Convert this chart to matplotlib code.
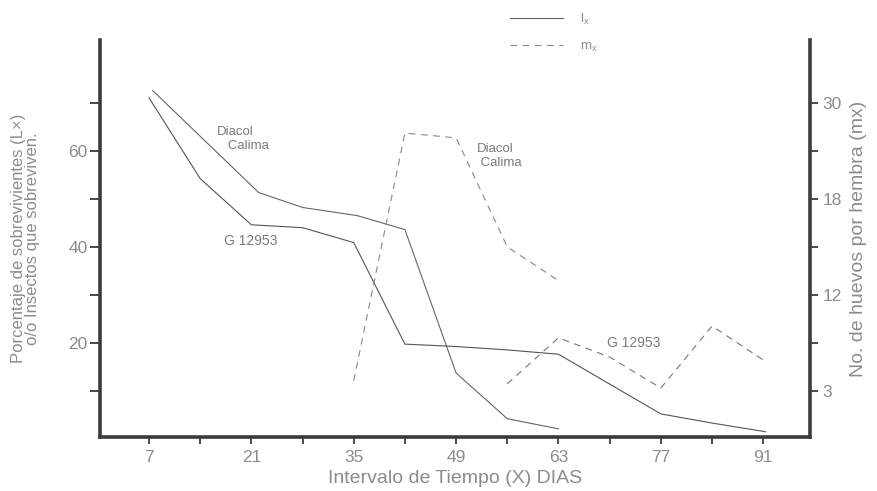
import numpy as np
import matplotlib
matplotlib.use("Agg")
import matplotlib.pyplot as plt
from matplotlib.ticker import FixedLocator

plt.rcParams['font.family'] = ['Liberation Sans', 'DejaVu Sans']

# Lx (porcentaje de sobrevivientes), eje izquierdo
dias_diacol_lx = [7.5, 22, 28, 35.5, 42, 49, 56, 63]
lx_diacol = [72.5, 51.3, 48.2, 46.5, 43.6, 13.8, 4.3, 2.2]

dias_g_lx = [7, 14, 21, 28, 35, 42, 49, 56, 63, 70, 77, 84, 91.3]
lx_g = [71, 54.2, 44.6, 44.0, 40.9, 19.8, 19.3, 18.6, 17.7, 11.5, 5.3, 3.4, 1.6]

# mx (huevos por hembra), eje derecho
dias_diacol_mx = [35, 42, 49, 56, 63]
mx_diacol = [4.0, 26.2, 25.6, 15.0, 12.9]

dias_g_mx = [56, 63, 70, 77, 84, 91.5]
mx_g = [3.7, 8.0, 6.2, 3.3, 9.1, 5.7]

x_ticks = [7, 21, 35, 49, 63, 77, 91]
x_minor = [14, 28, 42, 56, 70, 84]
lx_ticks = [20, 40, 60]
lx_minor = [10, 30, 50, 70]
mx_ticks = [3, 12, 18, 30]
mx_minor = [7.5, 15, 24]

# the right axis of the original is not linear: labels are evenly spaced
V = np.array(mx_ticks, float)
P = np.array([10, 30, 50, 70], float)

def fwd(v):
    v = np.asarray(v, float)
    lo = P[0] + (v - V[0]) * (P[1] - P[0]) / (V[1] - V[0])
    hi = P[-1] + (v - V[-1]) * (P[-1] - P[-2]) / (V[-1] - V[-2])
    return np.where(v < V[0], lo, np.where(v > V[-1], hi, np.interp(v, V, P)))

def inv(p):
    p = np.asarray(p, float)
    lo = V[0] + (p - P[0]) * (V[1] - V[0]) / (P[1] - P[0])
    hi = V[-1] + (p - P[-1]) * (V[-1] - V[-2]) / (P[-1] - P[-2])
    return np.where(p < P[0], lo, np.where(p > P[-1], hi, np.interp(p, P, V)))

txt = '#8c8c8c'
dark = '#3c3c3c'

fig = plt.figure(figsize=(8.78, 4.91), dpi=100)
ax = fig.add_axes([100/878, 1-437/491, 710/878, 397/491])
ax2 = ax.twinx()

l1, = ax.plot(dias_diacol_lx, lx_diacol, color='#666666', lw=0.8)
ax.plot(dias_g_lx, lx_g, color='#555555', lw=0.8)

ax2.set_yscale('function', functions=(fwd, inv))
l2, = ax2.plot(dias_diacol_mx, mx_diacol, color='#888888', lw=0.8, dashes=(6, 5))
ax2.plot(dias_g_mx, mx_g, color='#777777', lw=0.8, dashes=(6, 5))

ylim = (0.5, 83)
ax.set_xlim(0.3, 97.4)
ax.set_ylim(*ylim)
ax2.set_ylim(float(inv(ylim[0])), float(inv(ylim[1])))

ax.set_xticks(x_ticks)
ax.xaxis.set_minor_locator(FixedLocator(x_minor))
ax.set_yticks(lx_ticks)
ax.yaxis.set_minor_locator(FixedLocator(lx_minor))
ax2.set_yticks(mx_ticks)
ax2.set_yticklabels([str(t) for t in mx_ticks])
ax2.yaxis.set_minor_locator(FixedLocator(mx_minor))
ax2.yaxis.set_minor_formatter(plt.NullFormatter())

for a in (ax, ax2):
    a.spines['top'].set_visible(False)
    for s in ('left', 'right', 'bottom'):
        a.spines[s].set_linewidth(2.6)
        a.spines[s].set_color(dark)
ax.spines['right'].set_visible(False)
ax2.spines['left'].set_visible(False)
ax2.spines['bottom'].set_visible(False)

ax.tick_params(axis='y', which='both', direction='out', length=7, width=1.3,
               color=dark, labelcolor=txt, labelsize=12.5, pad=2)
ax.tick_params(axis='x', which='both', direction='out', length=5, width=1.3,
               color=dark, labelcolor=txt, labelsize=12.5, pad=4)
ax2.tick_params(axis='y', which='both', direction='out', length=6, width=1.3,
                color=dark, labelcolor=txt, labelsize=12.5, pad=3)

ax.set_xlabel('Intervalo de Tiempo (X) DIAS', color=txt, fontsize=14, labelpad=4)
ax.set_ylabel('Porcentaje de sobrevivientes (L×)\no/o Insectos que sobreviven.',
              color=txt, fontsize=12, labelpad=20, linespacing=0.95)
ax2.set_ylabel('No. de huevos por hembra (mx)', color=txt, fontsize=14, labelpad=6)

# etiquetas de las curvas
ax.text(16.3, 62.4, 'Diacol\n   Calima', color='#7a7a7a', fontsize=9.5, va='center')
ax.text(17.3, 41.3, 'G 12953', color='#7a7a7a', fontsize=10, va='center')
ax.text(51.8, 58.9, 'Diacol\n Calima', color='#7a7a7a', fontsize=9.5, va='center')
ax.text(69.7, 20.0, 'G 12953', color='#7a7a7a', fontsize=10, va='center')

leg = ax.legend([l1, l2], ['$\\mathregular{l_x}$', '$\\mathregular{m_x}$'],
                loc='upper left', bbox_to_anchor=(498/878, 1.0),
                bbox_transform=fig.transFigure, frameon=False, fontsize=9.5,
                handlelength=4.0, handletextpad=1.3, labelspacing=1.0)
for t in leg.get_texts():
    t.set_color(txt)

fig.savefig('out.png', dpi=100)
